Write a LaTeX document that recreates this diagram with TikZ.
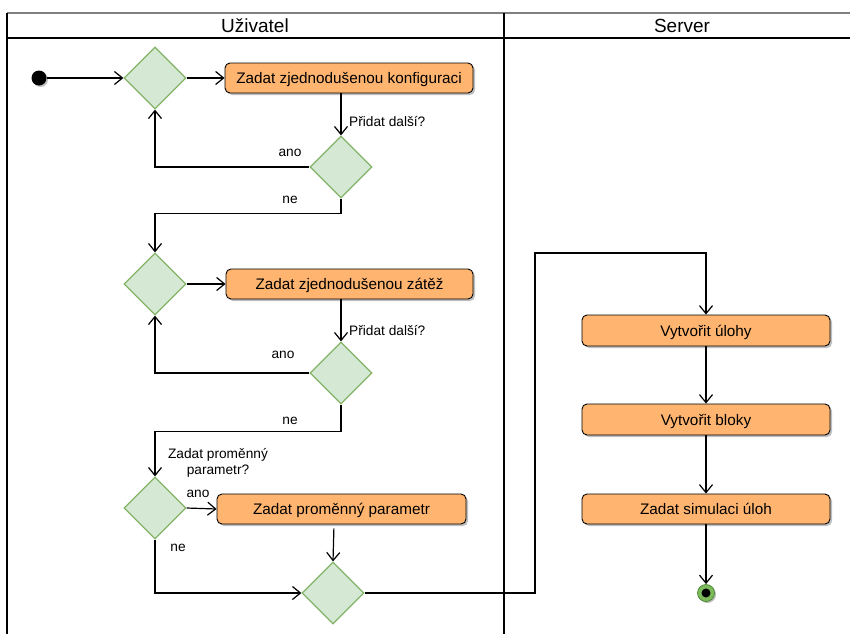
\documentclass[tikz,border=0pt]{standalone}
\usepackage{fontspec}
\setmainfont{Liberation Sans}
\usetikzlibrary{arrows.meta,shapes.geometric,shadows}

\definecolor{actfill}{HTML}{FFB570}
\definecolor{decfill}{HTML}{D5E8D4}
\definecolor{decline}{HTML}{82B366}
\definecolor{endring}{HTML}{7DBA5C}
\definecolor{endedge}{HTML}{4E8A36}

\tikzset{
  flow/.style={draw=black, line width=1.2pt, -{Straight Barb[length=8pt,width=13pt,line width=1.2pt]}},
  action/.style={rectangle, rounded corners=5pt, draw=black, line width=0.9pt, fill=actfill,
    minimum height=30pt, inner sep=0pt, text height=11pt, text depth=0pt,
    font=\fontsize{15.3}{18}\selectfont,
    drop shadow={shadow xshift=2pt, shadow yshift=-2pt, fill=black, opacity=0.25}},
  decision/.style={diamond, aspect=1, draw=decline, line width=1.2pt, fill=decfill,
    minimum width=62pt, minimum height=62pt, inner sep=0pt},
  lbl/.style={font=\fontsize{13.7}{16}\selectfont, inner sep=0pt},
  lanehead/.style={font=\fontsize{19}{22}\selectfont, inner sep=0pt},
}

\begin{document}
\begin{tikzpicture}[x=1pt,y=-1pt]
  \useasboundingbox (0,0) rectangle (850,634);

  % swimlane frame
  \draw[line width=2pt, black!50] (7,13) -- (850,13);
  \draw[line width=1.1pt] (7,13) -- (7,634);
  \draw[line width=1.1pt] (7,38) -- (850,38);
  \draw[line width=1.1pt] (504,13) -- (504,634);
  \node[lanehead] (hUser) at (255,25.5) {Uživatel};
  \node[lanehead] (hServer) at (682,25.5) {Server};

  % user lane
  \node[circle, fill=black, minimum size=15pt, inner sep=0pt,
        drop shadow={shadow xshift=1.5pt, shadow yshift=-1.5pt, fill=black, opacity=0.25}] (start) at (39,78) {};
  \node[decision] (d1) at (155,78) {};
  \node[action, minimum width=248pt] (b1) at (349,78) {Zadat zjednodušenou konfiguraci};
  \node[decision] (d2) at (341,167) {};
  \node[decision] (d3) at (155,284) {};
  \node[action, minimum width=247pt] (b2) at (349.5,284) {Zadat zjednodušenou zátěž};
  \node[decision] (d4) at (341,373) {};
  \node[decision] (d5) at (155,508) {};
  \node[action, minimum width=249pt] (b3) at (341.5,509) {Zadat proměnný parametr};
  \node[decision] (d6) at (333,593) {};

  % server lane
  \node[action, minimum width=248pt, minimum height=31pt] (b4) at (706,330.5) {Vytvořit úlohy};
  \node[action, minimum width=248pt, minimum height=31pt] (b5) at (706,419.5) {Vytvořit bloky};
  \node[action, minimum width=248pt] (b6) at (706,509) {Zadat simulaci úloh};
  \node[circle, draw=endedge, line width=0.8pt, fill=endring, minimum size=17pt, inner sep=0pt,
        drop shadow={shadow xshift=1.5pt, shadow yshift=-1.5pt, fill=black, opacity=0.25}] (end) at (706,593) {};
  \node[circle, fill=black, minimum size=9pt, inner sep=0pt] (endDot) at (end.center) {};

  \coordinate (bendA) at (535,253);

  % connectors
  \draw[flow] (start) -- (d1.west);
  \draw[flow] (d1.east) -- (b1.west);
  \draw[flow] (b1.south -| d2.north) -- (d2.north);
  \draw[flow] (d2.west) -| (d1.south);
  \draw[flow] (d2.south) -- ++(0,15) -| (d3.north);
  \draw[flow] (d3.east) -- (b2.west);
  \draw[flow] (b2.south -| d4.north) -- (d4.north);
  \draw[flow] (d4.west) -| (d3.south);
  \draw[flow] (d4.south) -- ++(0,27) -| (d5.north);
  \draw[flow] (d5.east) -- (b3.west);
  \draw[flow, shorten <=4pt] (b3.south -| 334,0) -- (d6.north);
  \draw[flow] (d5.south) |- (d6.west);
  \draw[flow] (d6.east) -| (bendA) -| (b4.north);
  \draw[flow] (b4.south) -- (b5.north);
  \draw[flow] (b5.south) -- (b6.north);
  \draw[flow] (b6.south) -- (end.north);

  % labels
  \node[lbl, anchor=west] (q1) at (349,121.5) {Přidat další?};
  \node[lbl] (yes1) at (290,153) {ano};
  \node[lbl] (no1) at (290,200) {ne};
  \node[lbl, anchor=west] (q2) at (349,330.5) {Přidat další?};
  \node[lbl] (yes2) at (283,355) {ano};
  \node[lbl] (no2) at (290,421) {ne};
  \node[lbl, align=center] (q3) at (218,462.5) {Zadat proměnný\\parametr?};
  \node[lbl] (yes3) at (198,494) {ano};
  \node[lbl] (no3) at (178,548) {ne};
\end{tikzpicture}
\end{document}
